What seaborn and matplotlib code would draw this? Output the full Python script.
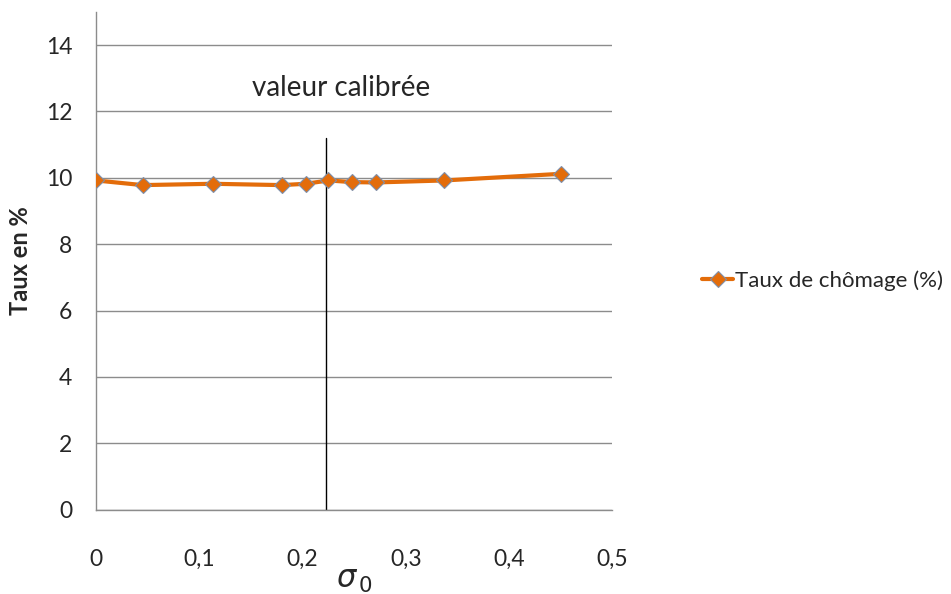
import numpy as np
import pandas as pd
import matplotlib
matplotlib.use('Agg')
import matplotlib.pyplot as plt
import seaborn as sns

# data
sigma0 = [0.0, 0.045, 0.113, 0.18, 0.203, 0.225, 0.248, 0.271, 0.337, 0.45]
chomage = [9.92, 9.78, 9.82, 9.78, 9.82, 9.92, 9.87, 9.86, 9.92, 10.12]
valeur_calibree = 0.223
xticks = [0, 0.1, 0.2, 0.3, 0.4, 0.5]
yticks = [0, 2, 4, 6, 8, 10, 12, 14]

df = pd.DataFrame({'sigma0': sigma0, 'chomage': chomage})

sns.set_style('white')
plt.rcParams['font.family'] = ['Lato', 'DejaVu Sans']

fig = plt.figure(figsize=(9.51, 5.94), dpi=100)
ax = fig.add_axes([0.101, 0.142, 0.543, 0.838])

sns.lineplot(data=df, x='sigma0', y='chomage', ax=ax, color='#E36C0A', lw=3,
             marker='D', markersize=8, markerfacecolor='#E36C0A',
             markeredgecolor='#7F8FA9', markeredgewidth=0.8,
             label='Taux de chômage (%)', zorder=3)

ax.axvline(valeur_calibree, ymin=0, ymax=11.2 / 15, color='black', lw=1, zorder=2)
ax.text(0.237, 12.7, 'valeur calibrée', ha='center', va='center', fontsize=20)

ax.set_xlim(0, 0.5)
ax.set_ylim(0, 15)
ax.set_xticks(xticks)
ax.set_xticklabels([('%g' % t).replace('.', ',') for t in xticks], fontsize=16.5)
ax.set_yticks(yticks)
ax.set_yticklabels([str(t) for t in yticks], fontsize=16.5)
ax.tick_params(axis='x', length=0, pad=28)
ax.tick_params(axis='y', length=0, pad=17)
ax.yaxis.grid(True, color='#8C8C8C', lw=1)
ax.set_axisbelow(True)

for s in ['top', 'right']:
    ax.spines[s].set_visible(False)
for s in ['left', 'bottom']:
    ax.spines[s].set_color('#8C8C8C')
    ax.spines[s].set_linewidth(1)

ax.set_ylabel('Taux en %', fontsize=17, fontweight='bold', labelpad=10)
ax.set_xlabel(r'$\sigma_{\,0}$', fontsize=22, labelpad=-2)

leg = ax.legend(loc='center left', bbox_to_anchor=(1.135, 0.46), frameon=False,
                fontsize=16, handlelength=1.4, handletextpad=0.1)

fig.savefig('out.png', dpi=100)
